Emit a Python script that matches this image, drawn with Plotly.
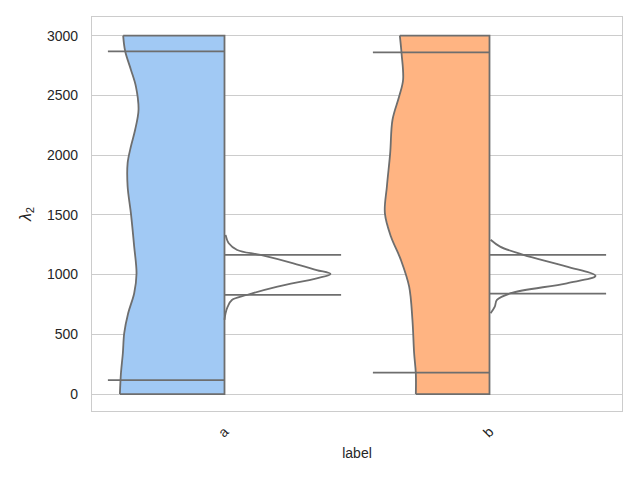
import plotly.graph_objects as go

# ---- data ----
categories = ["a", "b"]

a_left_values = [3000, 2869, 2715, 2575, 2380, 2212, 2072, 1933, 1737, 1514, 1234, 1006, 844, 676, 509, 341, 173, 0]
a_left_density = [0.956, 0.937, 0.883, 0.836, 0.811, 0.843, 0.883, 0.914, 0.914, 0.883, 0.852, 0.830, 0.852, 0.909, 0.946, 0.959, 0.977, 0.987]

a_right_values = [1332, 1262, 1206, 1164, 1094, 1038, 1005, 969, 899, 829, 787, 731, 676, 620]
a_right_density = [0.01, 0.04, 0.12, 0.34, 0.65, 0.87, 1.0, 0.87, 0.50, 0.21, 0.07, 0.03, 0.01, 0.0]

b_left_values = [3000, 2855, 2631, 2492, 2296, 2017, 1737, 1514, 1318, 1123, 899, 620, 341, 173, 0]
b_left_density = [0.846, 0.830, 0.815, 0.852, 0.915, 0.937, 0.968, 0.987, 0.930, 0.836, 0.758, 0.727, 0.711, 0.695, 0.695]

b_right_values = [1291, 1234, 1165, 1067, 989, 927, 844, 788, 732, 676]
b_right_density = [0.01, 0.10, 0.32, 0.73, 1.0, 0.73, 0.20, 0.07, 0.05, 0.01]

a_left_lines = [117, 2869]
a_right_lines = [830, 1165]
b_left_lines = [179, 2860]
b_right_lines = [840, 1165]

# ---- styles ----
HALF_W = 0.4
LINE_LEN = 0.44
EDGE = "#6e6e6e"
LW = 1.8
FILLS = ["#a1c9f4", "#ffb482"]
FONT = "Liberation Sans, Arial, sans-serif"
TXT = "#262626"

fig = go.Figure()


def half(center, values, density, side, fill):
    xs = [center + side * HALF_W * d for d in density]
    ys = list(values)
    if fill:
        # filled body (closed along the centre line)
        fig.add_trace(go.Scatter(
            x=xs + [center, center, xs[0]], y=ys + [values[-1], values[0], values[0]],
            mode="lines", fill="toself", fillcolor=fill,
            line=dict(color="rgba(0,0,0,0)", width=0),
            hoverinfo="skip", showlegend=False))
        # straight outline: top, centre, bottom
        fig.add_trace(go.Scatter(
            x=[xs[-1], center, center, xs[0]], y=[values[-1], values[-1], values[0], values[0]],
            mode="lines", line=dict(color=EDGE, width=LW),
            hoverinfo="skip", showlegend=False))
    # smooth density edge
    fig.add_trace(go.Scatter(
        x=xs, y=ys, mode="lines",
        line=dict(color=EDGE, width=LW, shape="spline", smoothing=1.0),
        hoverinfo="skip", showlegend=False))


def qlines(center, vals, side):
    xs, ys = [], []
    for v in vals:
        xs += [center, center + side * LINE_LEN, None]
        ys += [v, v, None]
    fig.add_trace(go.Scatter(x=xs, y=ys, mode="lines",
                             line=dict(color=EDGE, width=LW),
                             hoverinfo="skip", showlegend=False))


half(0, a_left_values, a_left_density, -1, FILLS[0])
half(0, a_right_values, a_right_density, 1, None)
half(1, b_left_values, b_left_density, -1, FILLS[1])
half(1, b_right_values, b_right_density, 1, None)
qlines(0, a_left_lines, -1)
qlines(0, a_right_lines, 1)
qlines(1, b_left_lines, -1)
qlines(1, b_right_lines, 1)

fig.update_layout(
    width=640, height=480,
    margin=dict(l=84, r=26, t=9, b=77),
    paper_bgcolor="white", plot_bgcolor="white",
    font=dict(family=FONT, size=14, color=TXT),
    showlegend=False,
    xaxis=dict(
        range=[-0.5, 1.5], tickmode="array", tickvals=[0, 1], ticktext=categories,
        tickangle=-45, showgrid=False, zeroline=False,
        showline=True, linecolor="#cccccc", linewidth=1.2, mirror=True,
        ticks="", ticklabelstandoff=6,
        title=dict(text="label", font=dict(size=14, color=TXT), standoff=8),
    ),
    yaxis=dict(
        range=[-142, 3156], tickvals=[0, 500, 1000, 1500, 2000, 2500, 3000],
        showgrid=True, gridcolor="#cccccc", gridwidth=1.1, zeroline=False,
        showline=True, linecolor="#cccccc", linewidth=1.2, mirror=True,
        ticks="", ticklabelstandoff=10,
        title=dict(text="<i>λ</i><sub>2</sub>", font=dict(size=16, color=TXT), standoff=11),
    ),
)

fig.write_html("out.html")
